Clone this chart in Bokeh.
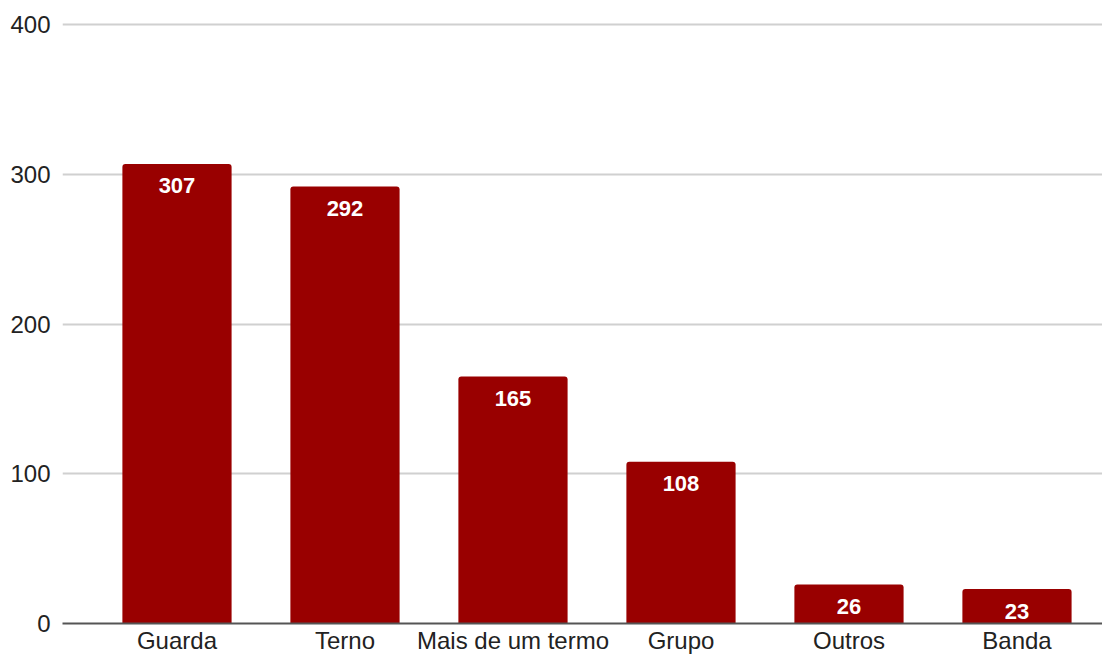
from bokeh.plotting import figure
from bokeh.models import ColumnDataSource, Range1d, FixedTicker
from bokeh.core.properties import value
from bokeh.embed import file_html
from bokeh.resources import INLINE

categories = ["Guarda", "Terno", "Mais de um termo", "Grupo", "Outros", "Banda"]
counts = [307, 292, 165, 108, 26, 23]
y_ticks = [0, 100, 200, 300, 400]

xs = list(range(len(categories)))
src = ColumnDataSource(dict(x=xs, top=counts, label=[str(c) for c in counts]))

p = figure(width=1102, height=656, output_backend="svg", toolbar_location=None,
           x_range=Range1d(-0.6815, 5.509), y_range=Range1d(0, 401.5),
           min_border_left=62, min_border_right=0, min_border_top=22, min_border_bottom=33)
p.outline_line_color = None
p.background_fill_color = "white"
p.border_fill_color = "white"

p.vbar(x="x", top="top", bottom=0, width=0.65, source=src,
       fill_color="#990000", line_color=None, border_radius=[3, 3, 0, 0])

p.text(x="x", y="top", text="label", source=src, text_color="white",
       text_font=value("Liberation Sans"), text_font_style="bold",
       text_font_size="22px", text_align="center", text_baseline="middle",
       y_offset=22)

p.xaxis.ticker = FixedTicker(ticks=xs)
p.xaxis.major_label_overrides = {i: c for i, c in zip(xs, categories)}
p.xaxis.major_tick_line_color = None
p.xaxis.major_tick_out = 0
p.xaxis.major_tick_in = 0
p.xaxis.minor_tick_line_color = None
p.xaxis.axis_line_color = "#555555"
p.xaxis.axis_line_width = 2
p.xaxis.major_label_standoff = 3
p.xaxis.major_label_text_font = "Liberation Sans"
p.xaxis.major_label_text_font_size = "24px"
p.xaxis.major_label_text_color = "#222222"

p.yaxis.ticker = FixedTicker(ticks=y_ticks)
p.yaxis.axis_line_color = None
p.yaxis.major_tick_line_color = None
p.yaxis.major_tick_out = 0
p.yaxis.major_tick_in = 0
p.yaxis.minor_tick_line_color = None
p.yaxis.major_label_standoff = 12
p.yaxis.major_label_text_font = "Liberation Sans"
p.yaxis.major_label_text_font_size = "24px"
p.yaxis.major_label_text_color = "#222222"

p.xgrid.grid_line_color = None
p.ygrid.ticker = FixedTicker(ticks=y_ticks)
p.ygrid.grid_line_color = "#d0d0d0"
p.ygrid.grid_line_width = 2

open("out.html", "w").write(file_html(p, INLINE))
